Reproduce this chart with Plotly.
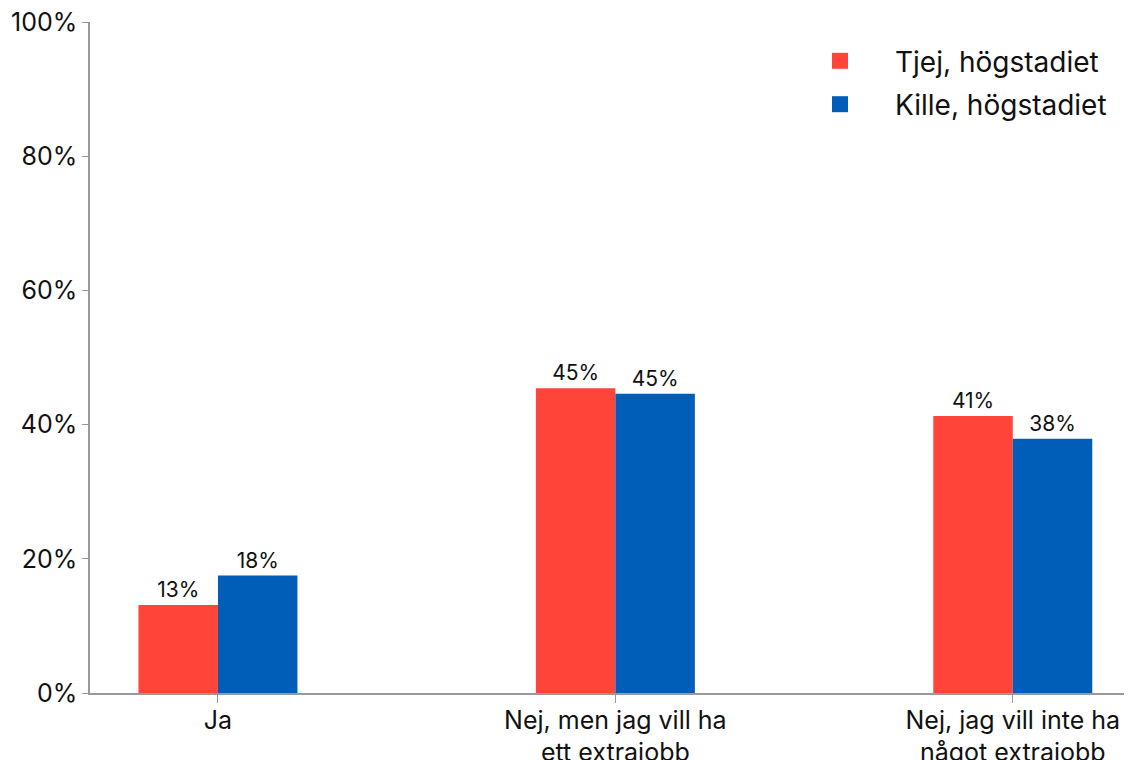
import plotly.graph_objects as go

categories = ["Ja", "Nej, men jag vill ha<br>ett extrajobb", "Nej, jag vill inte ha<br>något extrajobb"]
tjej = [13.1, 45.4, 41.3]
kille = [17.5, 44.6, 37.9]
series_names = ["Tjej, högstadiet", "Kille, högstadiet"]
colors = ["#FF4539", "#005EB8"]
y_ticks = [0, 20, 40, 60, 80, 100]

FONT = "Inter"

fig = go.Figure()
for i, (name, vals, col) in enumerate(zip(series_names, [tjej, kille], colors)):
    fig.add_trace(go.Bar(
        x=categories, y=vals, name=name,
        marker_color=col, marker_line_width=0,
        text=[f"{round(v)}%" for v in vals],
        textposition="outside",
        textfont=dict(size=21, color="#111111", family=FONT),
        cliponaxis=False,
        showlegend=False,
    ))
    # legend entry with a larger square marker
    fig.add_trace(go.Scatter(
        x=[None], y=[None], mode="markers", name=name,
        legendgroup=f"g{i}",
        marker=dict(symbol="square", size=18, color=col),
    ))

# page body adds an 8px offset, so margins are shifted to compensate
fig.update_layout(
    width=1132, height=760,
    paper_bgcolor="white", plot_bgcolor="white",
    margin=dict(l=82, r=8, t=14, b=75),
    barmode="group", bargap=0.6,
    font=dict(family=FONT, size=22, color="#111111"),
    legend=dict(
        x=0.667, y=0.979, xanchor="left", yanchor="top",
        font=dict(size=28, family=FONT),
        itemwidth=100, tracegroupgap=4,
        bgcolor="rgba(0,0,0,0)",
    ),
    xaxis=dict(
        range=[-0.322, 2.30],
        showline=True, linecolor="#999999", linewidth=1.5,
        ticks="outside", ticklen=8, tickcolor="#999999",
        ticklabelstandoff=-4,
        tickfont=dict(size=25, family=FONT),
        showgrid=False, automargin=False,
    ),
    yaxis=dict(
        range=[0, 100],
        tickvals=y_ticks, ticktext=[f"{t}%" for t in y_ticks],
        showline=True, linecolor="#999999", linewidth=1.5,
        ticks="outside", ticklen=6, tickcolor="#999999",
        ticklabelstandoff=0, ticklabeloverflow="allow",
        tickfont=dict(size=25, family=FONT),
        showgrid=False, zeroline=False, automargin=False,
    ),
)

fig.write_html("out.html")
